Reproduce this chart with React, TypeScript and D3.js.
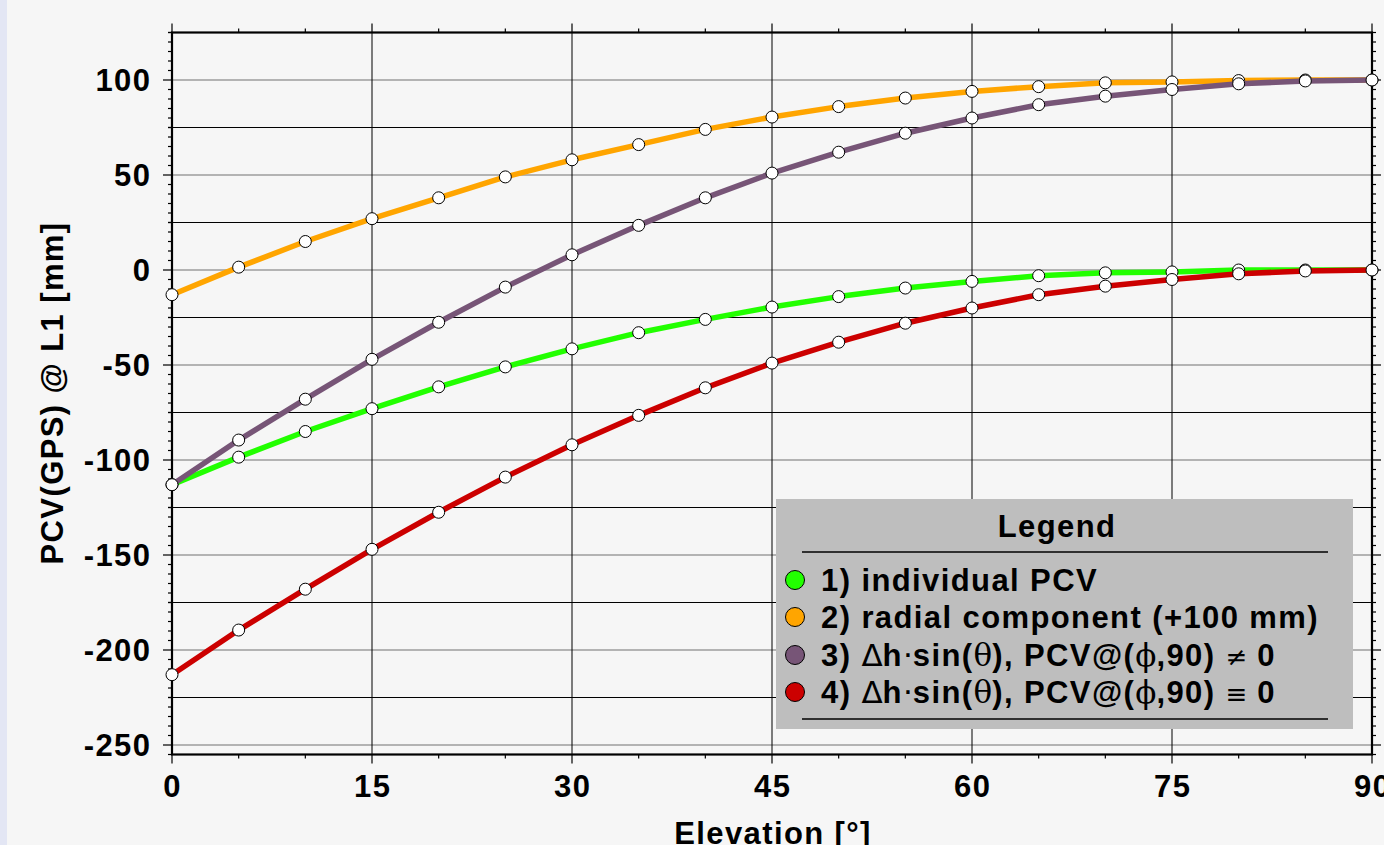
import React from "react";
import * as d3 from "d3";

const elevations = [0, 5, 10, 15, 20, 25, 30, 35, 40, 45, 50, 55, 60, 65, 70, 75, 80, 85, 90];
const individualPCV = [-113, -98.5, -85, -73, -61.5, -51, -41.5, -33, -26, -19.5, -14, -9.5, -6, -3, -1.5, -1, 0, 0, 0];
const radialComponent = [-13, 1.5, 15, 27, 38, 49, 58, 66, 74, 80.5, 86, 90.5, 94, 96.5, 98.5, 99, 99.7, 100, 100];
const dhSinNonZero = [-113, -89.5, -68, -47, -27.5, -9, 8, 23.5, 38, 51, 62, 72, 80, 87, 91.5, 95, 98, 99.5, 100];
const dhSinZero = [-213, -189.5, -168, -147, -127.5, -109, -92, -76.5, -62, -49, -38, -28, -20, -13, -8.5, -5, -2, -0.5, 0];

const seriesNames = ["1) individual PCV", "2) radial component (+100 mm)", "3)", "4)"];
const seriesColors = ["#22ff00", "#ffa500", "#775577", "#cc0000"];

const xTicks = [0, 15, 30, 45, 60, 75, 90];
const yTicks = [-250, -200, -150, -100, -50, 0, 50, 100];

const W = 1384;
const H = 845;
const FONT = "'Liberation Sans', Arial, Helvetica, sans-serif";
const LS = 1.4;

export default function App() {
  const x = d3.scaleLinear().domain([0, 90]).range([172, 1372]);
  const y = d3.scaleLinear().domain([-255, 125]).range([754.5, 32.5]);
  const allSeries = [individualPCV, radialComponent, dhSinNonZero, dhSinZero];
  const line = d3
    .line<number>()
    .x((_, i) => x(elevations[i]))
    .y((d) => y(d));

  const minorX = d3.range(0, 91, 5);
  const minorY = d3.range(-255, 126, 5);
  const gridY = d3.range(-250, 126, 25);
  const [x0, x1] = x.range();
  const yb = y(-255);
  const yt = y(125);

  const legendX = 776;
  const legendY = 499;
  const legendW = 577;
  const legendH = 230;
  const entryY = [580, 617, 655, 692];

  const symSerif = { fontFamily: "'DejaVu Serif', serif", fontWeight: "normal" as const, letterSpacing: 0 };
  const symSans = { fontFamily: "'DejaVu Sans', sans-serif", fontWeight: "normal" as const, letterSpacing: 0 };
  const symSmall = { ...symSans, fontSize: 26 };

  const legendLabel = (i: number) => {
    if (i < 2) return seriesNames[i];
    return (
      <>
        {seriesNames[i]} <tspan style={symSans}>Δ</tspan>h<tspan style={symSans}>·</tspan>sin(
        <tspan style={symSerif}>θ</tspan>), PCV@(<tspan style={symSerif}>ϕ</tspan>,90){" "}
        <tspan style={symSmall}>{i === 2 ? "≠" : "≡"}</tspan> 0
      </>
    );
  };

  return (
    <svg
      width={W}
      height={H}
      style={{ position: "absolute", left: 0, top: 0, display: "block" }}
      fontFamily={FONT}
    >
      <rect x={0} y={0} width={W} height={H} fill="#f6f6f6" />
      <rect x={0} y={0} width={7} height={H} fill="#e3e6f4" />

      {/* horizontal grid */}
      {gridY.map((v) => (
        <line
          key={"gy" + v}
          x1={x0}
          x2={x1}
          y1={y(v)}
          y2={y(v)}
          stroke={v % 50 === 0 ? "#707070" : "#000"}
          strokeWidth={1.2}
        />
      ))}
      {/* vertical grid */}
      {xTicks.map((v) => (
        <line key={"gx" + v} x1={x(v)} x2={x(v)} y1={yt} y2={yb} stroke="#000" strokeWidth={1} />
      ))}

      {/* ticks x */}
      {minorX.map((v) => {
        const major = v % 15 === 0;
        const len = major ? 9 : 4;
        return (
          <g key={"tx" + v}>
            <line x1={x(v)} x2={x(v)} y1={yt} y2={yt - len} stroke="#000" strokeWidth={1.2} />
            <line x1={x(v)} x2={x(v)} y1={yb} y2={yb + len} stroke="#000" strokeWidth={1.2} />
          </g>
        );
      })}
      {/* ticks y */}
      {minorY.map((v) => {
        const major = v % 50 === 0;
        const len = major ? 9 : 4;
        return (
          <g key={"ty" + v}>
            <line x1={x0} x2={x0 - len} y1={y(v)} y2={y(v)} stroke="#000" strokeWidth={1.2} />
            <line x1={x1} x2={x1 + len} y1={y(v)} y2={y(v)} stroke="#000" strokeWidth={1.2} />
          </g>
        );
      })}
      {gridY
        .filter((v) => v % 50 !== 0)
        .map((v) => (
          <g key={"ty25" + v}>
            <line x1={x0} x2={x0 - 4} y1={y(v)} y2={y(v)} stroke="#000" strokeWidth={1.2} />
          </g>
        ))}

      {/* frame */}
      <rect x={x0} y={yt} width={x1 - x0} height={yb - yt} fill="none" stroke="#000" strokeWidth={2.2} />

      {/* tick labels */}
      {xTicks.map((v) => (
        <text key={"lx" + v} x={x(v) + LS / 2} y={797} textAnchor="middle" fontSize={31} fontWeight="bold" letterSpacing={LS}>
          {v}
        </text>
      ))}
      {yTicks.map((v) => (
        <text key={"ly" + v} x={150 + LS} y={y(v) + 11} textAnchor="end" fontSize={31} fontWeight="bold" letterSpacing={LS}>
          {v}
        </text>
      ))}

      {/* axis titles */}
      <text x={773} y={844} textAnchor="middle" fontSize={31} fontWeight="bold" letterSpacing={LS}>
        Elevation [°]
      </text>
      <text
        transform={`translate(63,393) rotate(-90)`}
        textAnchor="middle"
        fontSize={31}
        fontWeight="bold"
        letterSpacing={LS}
      >
        PCV(GPS) @ L1 [mm]
      </text>

      {/* series */}
      {allSeries.map((s, si) => (
        <g key={"s" + si}>
          <path d={line(s) || ""} fill="none" stroke={seriesColors[si]} strokeWidth={5.5} strokeLinejoin="round" />
          {s.map((v, i) => (
            <circle key={i} cx={x(elevations[i])} cy={y(v)} r={6} fill="#fff" stroke="#000" strokeWidth={1} />
          ))}
        </g>
      ))}

      {/* legend */}
      <rect x={legendX} y={legendY} width={legendW} height={legendH} fill="#bebebe" />
      <text x={1057} y={537} textAnchor="middle" fontSize={31} fontWeight="bold" letterSpacing={LS}>
        Legend
      </text>
      <line x1={802} x2={1328} y1={552} y2={552} stroke="#000" strokeWidth={1.5} />
      <line x1={802} x2={1328} y1={719} y2={719} stroke="#000" strokeWidth={1.5} />
      {seriesNames.map((_, i) => (
        <g key={"lg" + i}>
          <circle cx={795} cy={entryY[i]} r={9.5} fill={seriesColors[i]} stroke="#000" strokeWidth={1} />
          <text x={821} y={entryY[i] + 11} fontSize={31} fontWeight="bold" letterSpacing={LS}>
            {legendLabel(i)}
          </text>
        </g>
      ))}
    </svg>
  );
}
